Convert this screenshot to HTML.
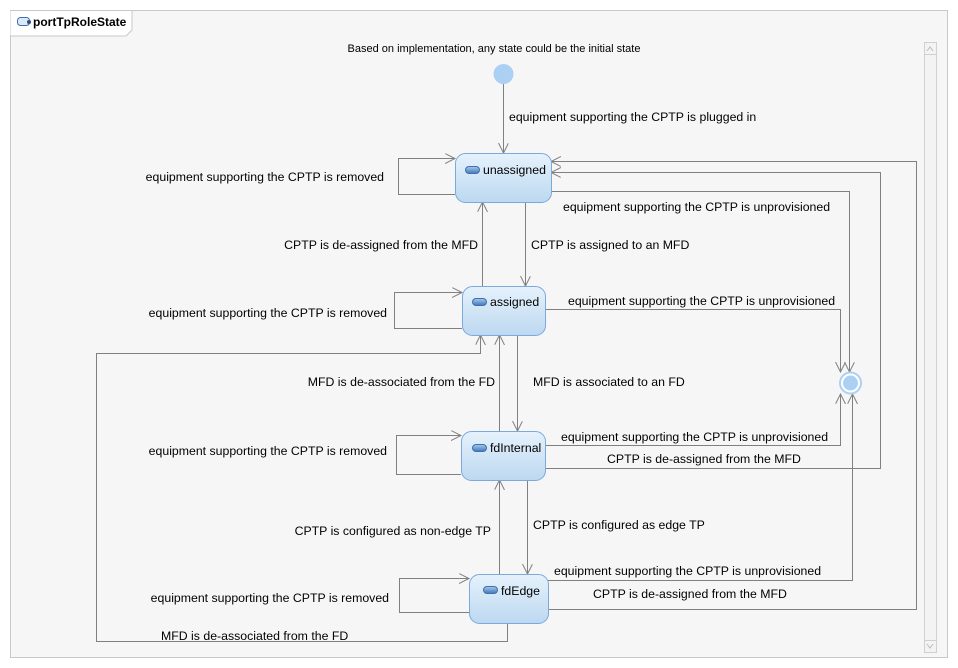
<!DOCTYPE html>
<html><head><meta charset="utf-8"><style>
html,body{margin:0;padding:0;background:#fff;}
svg{display:block;}
text{font-family:"Liberation Sans",sans-serif;font-size:12.3px;fill:#000;}
</style></head><body>
<svg width="958" height="668" viewBox="0 0 958 668" xmlns="http://www.w3.org/2000/svg">
<defs>
<linearGradient id="g" x1="0" y1="0" x2="0" y2="1"><stop offset="0" stop-color="#e6f2fc"/><stop offset="1" stop-color="#bcd8f0"/></linearGradient>
<linearGradient id="ic" x1="0" y1="0" x2="0" y2="1"><stop offset="0" stop-color="#a9c9ea"/><stop offset="1" stop-color="#3f78b8"/></linearGradient>
<marker id="a" markerWidth="12" markerHeight="12" refX="10" refY="5" orient="auto" markerUnits="userSpaceOnUse"><path d="M0,0 L10,5 L0,10" fill="none" stroke="#808080" stroke-width="1"/></marker>
</defs>
<rect x="10.5" y="10.5" width="937" height="647" fill="#f6f6f6" stroke="#c8c8c8"/>
<path d="M10.5,10.5 H132 V30 L126,36 H10.5" fill="#fff" stroke="#c8c8c8"/>
<rect x="17.5" y="17.5" width="12" height="8" rx="3" fill="#dbe8f6" stroke="#3f6fae"/>
<circle cx="29" cy="22" r="2" fill="#2a4e86"/>
<text x="33" y="26" style="font-weight:bold;font-size:12px">portTpRoleState</text>
<rect x="924.5" y="42.5" width="12" height="610" fill="#f3f3f3" stroke="#d0d0d0"/>
<rect x="924.5" y="42.5" width="12" height="12" fill="#f3f3f3" stroke="#d0d0d0"/>
<rect x="924.5" y="640.5" width="12" height="12" fill="#f3f3f3" stroke="#d0d0d0"/>
<path d="M927,51 L930,47 L933,51" fill="none" stroke="#bbb"/>
<path d="M927,644 L930,648 L933,644" fill="none" stroke="#bbb"/>

<g fill="none" stroke="#808080" stroke-width="1">
<path d="M503.5,84 V153" marker-end="url(#a)"/>
<path d="M455,194.5 H398.5 V158.5 H455" marker-end="url(#a)"/>
<path d="M525.5,202 V286" marker-end="url(#a)"/>
<path d="M482.5,286 V202" marker-end="url(#a)"/>
<path d="M551,191.5 H849.5 V372" marker-end="url(#a)"/>
<path d="M548,609.5 H916.5 V161.5 H551" marker-end="url(#a)"/>
<path d="M545,468.5 H880.5 V172.5 H551" marker-end="url(#a)"/>
<path d="M462,328.5 H394.5 V292.5 H462" marker-end="url(#a)"/>
<path d="M545,309.5 H840.5 V372" marker-end="url(#a)"/>
<path d="M499.5,431 V335" marker-end="url(#a)"/>
<path d="M517.5,335 V431" marker-end="url(#a)"/>
<path d="M507.5,623 V641.5 H96.5 V353.5 H480.5 V335" marker-end="url(#a)"/>
<path d="M461,474.5 H396.5 V435.5 H461" marker-end="url(#a)"/>
<path d="M545,445.5 H840.5 V394" marker-end="url(#a)"/>
<path d="M527.5,480 V574" marker-end="url(#a)"/>
<path d="M499.5,574 V480" marker-end="url(#a)"/>
<path d="M469,612.5 H399.5 V578.5 H469" marker-end="url(#a)"/>
<path d="M548,580.5 H852.5 V394" marker-end="url(#a)"/>
</g>

<circle cx="503.5" cy="74" r="10" fill="#acd0f3"/>
<circle cx="850.5" cy="383" r="10.5" fill="#fff" stroke="#acd0f3" stroke-width="2"/>
<circle cx="850.5" cy="383" r="7.5" fill="#acd0f3"/>

<g>
<rect x="455.5" y="153.5" width="96" height="49" rx="10" fill="url(#g)" stroke="#7aa9dc"/>
<rect x="465.5" y="166.5" width="14" height="7" rx="3.5" fill="url(#ic)" stroke="#3f6fae"/>
<text x="483" y="174">unassigned</text>
<rect x="462.5" y="286.5" width="83" height="49" rx="10" fill="url(#g)" stroke="#7aa9dc"/>
<rect x="472.5" y="298.5" width="14" height="7" rx="3.5" fill="url(#ic)" stroke="#3f6fae"/>
<text x="490" y="306">assigned</text>
<rect x="461.5" y="431.5" width="84" height="49" rx="10" fill="url(#g)" stroke="#7aa9dc"/>
<rect x="472.5" y="444.5" width="14" height="7" rx="3.5" fill="url(#ic)" stroke="#3f6fae"/>
<text x="490" y="452">fdInternal</text>
<rect x="469.5" y="574.5" width="79" height="49" rx="10" fill="url(#g)" stroke="#7aa9dc"/>
<rect x="483.5" y="586.5" width="14" height="7" rx="3.5" fill="url(#ic)" stroke="#3f6fae"/>
<text x="501" y="595">fdEdge</text>
</g>

<g>
<text x="494" y="52" text-anchor="middle" style="font-size:11px">Based on implementation, any state could be the initial state</text>
<text x="509" y="121">equipment supporting the CPTP is plugged in</text>
<text x="384" y="181" text-anchor="end">equipment supporting the CPTP is removed</text>
<text x="563" y="211">equipment supporting the CPTP is unprovisioned</text>
<text x="478" y="249" text-anchor="end">CPTP is de-assigned from the MFD</text>
<text x="531" y="249">CPTP is assigned to an MFD</text>
<text x="387" y="317" text-anchor="end">equipment supporting the CPTP is removed</text>
<text x="568" y="305">equipment supporting the CPTP is unprovisioned</text>
<text x="495" y="386" text-anchor="end">MFD is de-associated from the FD</text>
<text x="533" y="386">MFD is associated to an FD</text>
<text x="387" y="455" text-anchor="end">equipment supporting the CPTP is removed</text>
<text x="561" y="441">equipment supporting the CPTP is unprovisioned</text>
<text x="607" y="463">CPTP is de-assigned from the MFD</text>
<text x="491" y="535" text-anchor="end">CPTP is configured as non-edge TP</text>
<text x="533" y="529">CPTP is configured as edge TP</text>
<text x="554" y="575">equipment supporting the CPTP is unprovisioned</text>
<text x="593" y="598">CPTP is de-assigned from the MFD</text>
<text x="389" y="602" text-anchor="end">equipment supporting the CPTP is removed</text>
<text x="161" y="640">MFD is de-associated from the FD</text>
</g>
</svg>
</body></html>
